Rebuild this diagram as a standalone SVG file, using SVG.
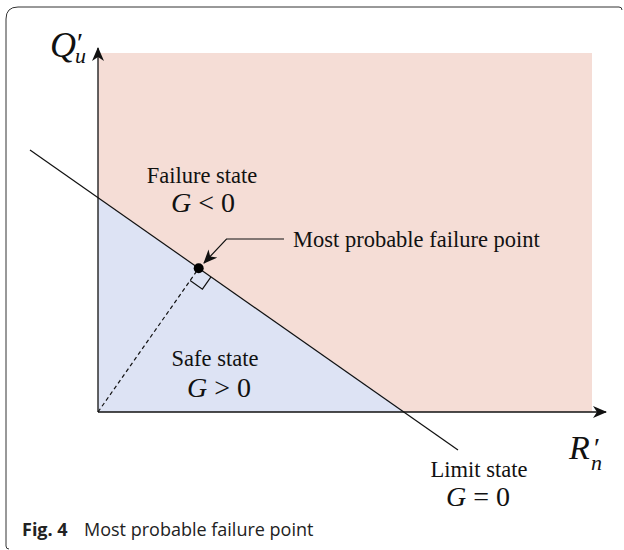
<svg xmlns="http://www.w3.org/2000/svg" width="624" height="550" viewBox="0 0 624 550">
<defs>
<style>
.serif{font-family:"Liberation Serif","Times New Roman",serif;fill:#111}
.it{font-style:italic}
.lab{font-size:22.5px}
.eq{font-size:28px}
.ln{stroke:#111;fill:none;stroke-width:1.3}
.cap{font-family:"Open Sans","Noto Sans",sans-serif;font-size:18px;fill:#222}
</style>
<marker id="ah" viewBox="0 0 14 12" refX="13" refY="6" markerWidth="14" markerHeight="12" markerUnits="userSpaceOnUse" orient="auto">
<path d="M0,0 L14,6 L0,12 L4,6 Z" fill="#111"/>
</marker>
</defs>
<rect width="624" height="550" fill="#fff"/>
<path d="M6,546 Q6,549 9,549 M6,546 L6,19 Q6,7 18,7 L619,7 Q622,7 622,10" fill="none" stroke="#333" stroke-width="1"/>
<g id="failure-region"><rect x="98" y="53" width="494" height="359" fill="#f5ddd6"/></g>
<g id="safe-region"><polygon points="98,412 98,198 405,412" fill="#dde3f4"/></g>
<g id="connectors">
<line class="ln" x1="98" y1="412" x2="98" y2="48" marker-end="url(#ah)"/>
<line class="ln" x1="98" y1="412" x2="606" y2="412" marker-end="url(#ah)"/>
<line x1="30" y1="150" x2="458" y2="450" stroke="#111" stroke-width="1.2"/>
<line x1="98" y1="412" x2="198.7" y2="268.3" stroke="#111" stroke-width="1.2" stroke-dasharray="4,3"/>
<polyline points="190.1,280.6 202.4,289.2 211.0,276.9" fill="none" stroke="#111" stroke-width="1.2"/>
<polyline points="284,239 226.5,239 204,263" fill="none" stroke="#111" stroke-width="1.2" marker-end="url(#ah)"/>
</g>
<g id="mpfp"><circle cx="198.7" cy="268.3" r="5" fill="#000"/>
<text class="serif lab" x="293" y="247">Most probable failure point</text></g>
<g id="yaxis-label">
<text class="serif it" x="50" y="57" font-size="36">Q</text>
<text class="serif" x="77" y="52" font-size="28">′</text>
<text class="serif it" x="75" y="63" font-size="22">u</text>
</g>
<g id="xaxis-label">
<text class="serif it" x="569" y="459" font-size="34">R</text>
<text class="serif" x="594" y="457" font-size="28">′</text>
<text class="serif it" x="591" y="470" font-size="22">n</text>
</g>
<g id="failure-label">
<text class="serif lab" x="202" y="183" text-anchor="middle">Failure state</text>
<text class="serif eq" x="203" y="212" text-anchor="middle"><tspan class="it">G</tspan> &lt; 0</text>
</g>
<g id="safe-label">
<text class="serif lab" x="215" y="366" text-anchor="middle">Safe state</text>
<text class="serif eq" x="219" y="397" text-anchor="middle"><tspan class="it">G</tspan> &gt; 0</text>
</g>
<g id="limit-label">
<text class="serif lab" x="479" y="477" text-anchor="middle">Limit state</text>
<text class="serif eq" x="478" y="506" text-anchor="middle"><tspan class="it">G</tspan> = 0</text>
</g>
<g id="caption"><text class="cap" x="22" y="536"><tspan font-weight="bold">Fig. 4</tspan><tspan x="84">Most probable failure point</tspan></text></g>
</svg>
